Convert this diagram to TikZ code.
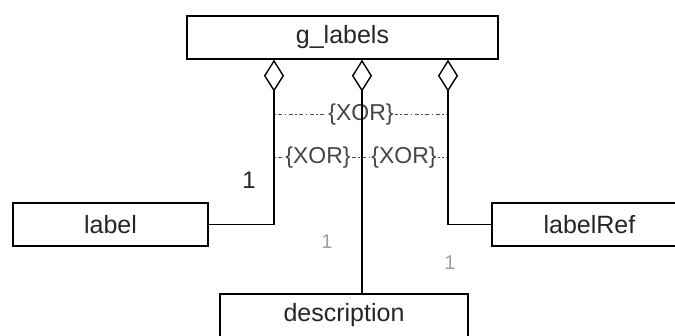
\documentclass[tikz,border=0pt]{standalone}
\usepackage{fontspec}
\setmainfont{Liberation Sans}
\usetikzlibrary{shapes.geometric}
\definecolor{txt}{HTML}{262626}
\definecolor{xortxt}{HTML}{454545}
\tikzset{
  cls/.style={draw=black, line width=1.6pt, fill=white, inner sep=0pt, minimum height=43pt,
    font=\fontsize{25}{25}\selectfont, text=txt},
  agg/.style={draw=black, line width=1.4pt, fill=white, shape=diamond, inner sep=0pt,
    minimum width=19pt, minimum height=30pt},
  conn/.style={draw=black, line width=1.6pt},
  xorline/.style={draw=gray!60!black, line width=1pt, dash pattern=on 1.5pt off 2.5pt on 4pt off 2.5pt},
  xorlbl/.style={fill=white, inner sep=1pt, font=\fontsize{23}{23}\selectfont, text=xortxt},
  mult/.style={inner sep=0pt, font=\fontsize{20}{20}\selectfont, text=gray!75},
}
\begin{document}
\begin{tikzpicture}[x=1pt, y=-1pt]
\useasboundingbox (0,0) rectangle (675,336);
\clip (0,0) rectangle (675,336);
% classes
\node[cls, minimum width=311pt] (g) at (342.5,37.5) {g\_labels};
\node[cls, minimum width=195pt] (label) at (110.5,224.5) {label};
\node[cls, minimum width=195pt] (ref) at (589.5,224.5) {labelRef};
\node[cls, minimum width=248pt] (desc) at (344,315.5) {description};
% aggregation diamonds
\node[agg, anchor=north] (d1) at (274,60) {};
\node[agg, anchor=north] (d2) at (362,60) {};
\node[agg, anchor=north] (d3) at (448,60) {};
% XOR constraints
\coordinate (x1a) at (274,115);
\coordinate (x1b) at (448,115);
\coordinate (x2a) at (274,158);
\coordinate (x2b) at (448,158);
\draw[xorline] (x1a) -- (x1b);
\draw[xorline] (x2a) -- (x2b);
\node[xorlbl] (xor1) at (361,115) {\{XOR\}};
\node[xorlbl] (xor2) at (318,158) {\{XOR\}};
\node[xorlbl] (xor3) at (404,158) {\{XOR\}};
% connectors
\draw[conn] (d1.south) |- (label.east);
\draw[conn] (d3.south) |- (ref.west);
\draw[conn] (d2.south) -- (d2.south |- desc.north);
% multiplicities
\node[inner sep=0pt, font=\fontsize{24}{24}\selectfont, text=txt] (m1) at (249,180) {1};
\node[mult] (m2) at (327,242) {1};
\node[mult] (m3) at (450,263) {1};
\end{tikzpicture}
\end{document}
